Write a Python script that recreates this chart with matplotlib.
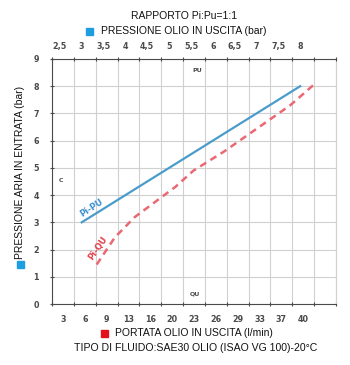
import numpy as np
import matplotlib.pyplot as plt
from matplotlib.patches import Rectangle
from matplotlib.ticker import FixedLocator, FixedFormatter, NullFormatter

# dati
pu_labels = ['2,5', '3', '3,5', '4', '4,5', '5', '5,5', '6', '6,5', '7', '7,5', '8']
pu_values = [2.5, 3, 3.5, 4, 4.5, 5, 5.5, 6, 6.5, 7, 7.5, 8]
q_labels = ['3', '6', '9', '13', '16', '20', '23', '26', '29', '33', '37', '40']
pi_ticks = [0, 1, 2, 3, 4, 5, 6, 7, 8, 9]

# Pi-PU (rapporto 1:1)
pu_line = [3.0, 8.0]
pi_pu = [3.0, 8.0]

# Pi-QU
q_line = [8.2, 11.0, 14.1, 17.2, 20.3, 23.1, 27.8, 32.9, 38.0, 41.6]
pi_qu = [1.45, 2.45, 3.2, 3.75, 4.3, 4.9, 5.6, 6.45, 7.3, 8.05]

W, H = 350, 365
GRAY = '#4a4a4a'
BLUE_SQ = '#1c9ee0'
RED_SQ = '#e3101c'

plt.rcParams['font.family'] = ['Liberation Sans', 'DejaVu Sans']

fig = plt.figure(figsize=(W / 100, H / 100), dpi=100)
ax = fig.add_axes([52 / W, 1 - 304 / H, 284 / W, 245 / H])


def px(x, y):
    return x / W, 1 - y / H


# asse inferiore (portata) - etichette al centro delle celle
q_step = (40 - 3) / 11
q_grid = 3 - q_step / 2 + q_step * np.arange(14)
q_pos = 3 + q_step * np.arange(len(q_labels))
ax.set_xlim(q_grid[0], q_grid[-1])
ax.set_ylim(0, 9)
ax.xaxis.set_major_locator(FixedLocator(q_grid))
ax.xaxis.set_major_formatter(NullFormatter())
ax.xaxis.set_minor_locator(FixedLocator(q_pos))
ax.xaxis.set_minor_formatter(FixedFormatter(q_labels))
ax.tick_params(axis='x', which='major', length=2.5, width=0.8, color=GRAY, direction='inout')
ax.tick_params(axis='x', which='minor', length=0, pad=8, labelsize=5.8, labelcolor=GRAY)
ax.set_yticks(pi_ticks)
ax.tick_params(axis='y', length=3, width=0.8, color=GRAY, direction='inout', pad=8,
               labelsize=5.8, labelcolor=GRAY)
for lab in ax.get_xticklabels(minor=True) + ax.get_yticklabels():
    lab.set_fontweight('bold')
    lab.set_family('DejaVu Sans')
ax.grid(True, which='major', color='#d0d0d0', linewidth=0.8)
ax.set_axisbelow(True)
ax.spines['top'].set_visible(False)
ax.spines['right'].set_color('#d0d0d0')
ax.spines['left'].set_color(GRAY)
ax.spines['bottom'].set_color(GRAY)

ax.plot(q_line, pi_qu, color='#ea6872', linewidth=1.8, linestyle=(0, (2.8, 2.0)))

# asse superiore (pressione olio in uscita)
ax2 = ax.twiny()
ax2.set_xlim(2.32, 8.82)
ax2.xaxis.set_major_locator(FixedLocator(2.32 + 0.5 * np.arange(14)))
ax2.xaxis.set_major_formatter(NullFormatter())
ax2.xaxis.set_minor_locator(FixedLocator(pu_values))
ax2.xaxis.set_minor_formatter(FixedFormatter(pu_labels))
ax2.tick_params(axis='x', which='major', length=3, width=0.8, color=GRAY, direction='inout')
ax2.tick_params(axis='x', which='minor', length=0, pad=6, labelsize=5.8, labelcolor=GRAY)
for lab in ax2.get_xticklabels(minor=True):
    lab.set_fontweight('bold')
    lab.set_family('DejaVu Sans')
for s in ['left', 'right', 'bottom']:
    ax2.spines[s].set_visible(False)
ax2.spines['top'].set_color(GRAY)

ax2.plot(pu_line, pi_pu, color='#4a9ccb', linewidth=1.6)

# etichette delle curve
fig.text(*px(92, 208), 'Pi-PU', color='#3a8fd0', fontsize=6, fontweight='bold',
         family='DejaVu Sans', rotation=33, ha='center', va='center')
fig.text(*px(98, 248), 'Pi-QU', color='#e0404a', fontsize=6, fontweight='bold',
         family='DejaVu Sans', rotation=55, ha='center', va='center')
fig.text(*px(197, 70), 'PU', color=GRAY, fontsize=4.5, fontweight='bold',
         family='DejaVu Sans', ha='center', va='center')
fig.text(*px(195, 294), 'QU', color=GRAY, fontsize=4.5, fontweight='bold',
         family='DejaVu Sans', ha='center', va='center')
fig.text(*px(61, 180), 'C', color=GRAY, fontsize=4.5, fontweight='bold',
         family='DejaVu Sans', ha='center', va='center')

# titoli
fig.text(*px(184, 16), 'RAPPORTO Pi:Pu=1:1', fontsize=7.5, ha='center', va='center', color='#111111')
fig.text(*px(101, 31), 'PRESSIONE OLIO IN USCITA (bar)', fontsize=7.5, ha='left', va='center',
         color='#111111')
fig.patches.append(Rectangle(px(86, 35), 7 / W, 7 / H, transform=fig.transFigure,
                             color=BLUE_SQ, figure=fig))

fig.text(*px(20, 172), 'PRESSIONE ARIA IN ENTRATA (bar)', fontsize=7.5, rotation=90,
         ha='center', va='center', color='#111111')
fig.patches.append(Rectangle(px(16.5, 268), 7 / W, 7 / H, transform=fig.transFigure,
                             color=BLUE_SQ, figure=fig))

fig.text(*px(115, 333), 'PORTATA OLIO IN USCITA (l/min)', fontsize=7.5, ha='left', va='center',
         color='#111111')
fig.patches.append(Rectangle(px(101, 337), 7 / W, 7 / H, transform=fig.transFigure,
                             color=RED_SQ, figure=fig))
fig.text(*px(196, 348), 'TIPO DI FLUIDO:SAE30 OLIO (ISAO VG 100)-20°C', fontsize=7.6,
         ha='center', va='center', color='#111111')

fig.savefig('out.png', dpi=100)
